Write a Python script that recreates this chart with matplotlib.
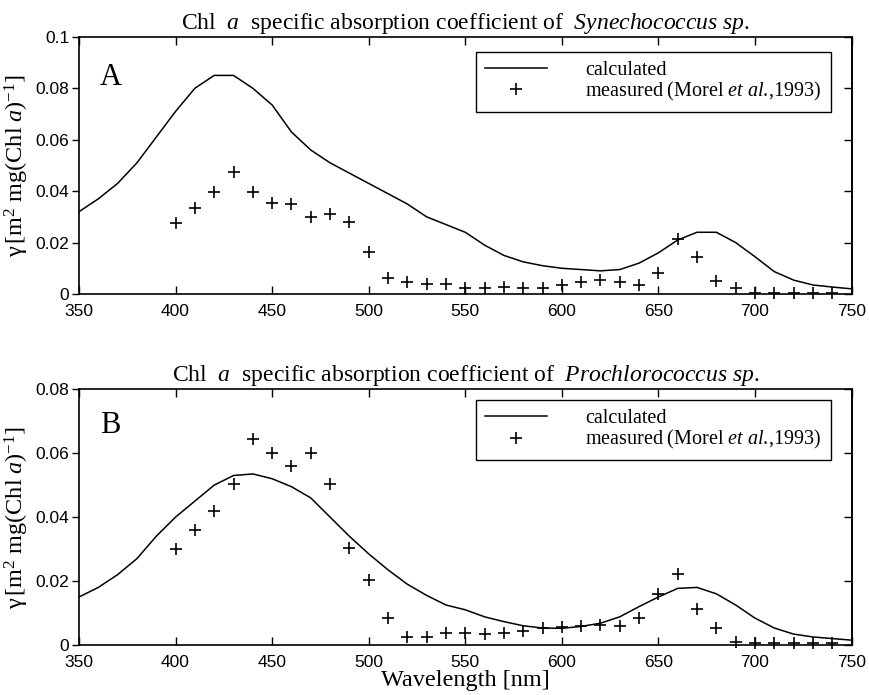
import matplotlib
matplotlib.use("Agg")
import matplotlib.pyplot as plt
from matplotlib.ticker import FuncFormatter, MultipleLocator

plt.rcParams['mathtext.fontset'] = 'custom'
plt.rcParams['mathtext.rm'] = 'Liberation Serif'
plt.rcParams['mathtext.it'] = 'Liberation Serif:italic'
plt.rcParams['mathtext.bf'] = 'Liberation Serif:bold'

# ---------------- data ----------------
wl_calc = list(range(350, 751, 10))
calc_syn = [0.032, 0.037, 0.043, 0.051, 0.061, 0.071, 0.080, 0.085, 0.085, 0.080,
            0.0735, 0.063, 0.056, 0.051, 0.047, 0.043, 0.039, 0.035, 0.030, 0.027,
            0.024, 0.019, 0.015, 0.0125, 0.011, 0.010, 0.0095, 0.009, 0.0095, 0.012,
            0.016, 0.021, 0.024, 0.024, 0.020, 0.0145, 0.0087, 0.0054, 0.0035, 0.0027,
            0.002]
calc_pro = [0.015, 0.018, 0.022, 0.027, 0.034, 0.040, 0.045, 0.050, 0.053, 0.0535,
            0.052, 0.0495, 0.046, 0.040, 0.034, 0.0285, 0.0235, 0.019, 0.0155, 0.0125,
            0.011, 0.0088, 0.0073, 0.006, 0.0053, 0.0052, 0.0058, 0.0068, 0.0088, 0.012,
            0.015, 0.0177, 0.018, 0.016, 0.0125, 0.0084, 0.0053, 0.0034, 0.0025, 0.002,
            0.0015]

wl_meas = list(range(400, 741, 10))
meas_syn = [0.0277, 0.0336, 0.0397, 0.0476, 0.0397, 0.0355, 0.0349, 0.0301, 0.031, 0.0281,
            0.0165, 0.0064, 0.0047, 0.0038, 0.0037, 0.0022, 0.0022, 0.0028, 0.0022, 0.0022,
            0.0035, 0.0048, 0.0054, 0.0048, 0.0035, 0.0080, 0.0213, 0.0143, 0.0052, 0.0022,
            0.0005, 0.0003, 0.0003, 0.0003, 0.0003]
meas_pro = [0.030, 0.0361, 0.042, 0.0503, 0.0643, 0.0601, 0.056, 0.0601, 0.0503, 0.0304,
            0.0203, 0.0085, 0.0026, 0.0026, 0.0038, 0.0037, 0.0035, 0.0038, 0.0045, 0.0052,
            0.0055, 0.006, 0.0062, 0.006, 0.0085, 0.016, 0.0221, 0.0111, 0.0054, 0.0008,
            0.0005, 0.0005, 0.0005, 0.0005, 0.0005]

xticks = [350, 400, 450, 500, 550, 600, 650, 700, 750]
titles = [r"Chl  $a$  specific absorption coefficient of  $\mathit{Synechococcus\ sp.}$",
          r"Chl  $a$  specific absorption coefficient of  $\mathit{Prochlorococcus\ sp.}$"]
panel_letters = ["A", "B"]
ymax = [0.1, 0.08]
legend_labels = ["calculated",
                 r"$\mathrm{measured\ (Morel\ }\mathit{et\ al.}\!\mathrm{{,}1993)}$"]
ylabel = r"$\mathrm{γ}\,[\mathrm{m}^2\ \mathrm{mg(Chl}\ a)^{-1}]$"

# ---------------- figure ----------------
fig = plt.figure(figsize=(8.69, 6.95), dpi=100)
rects = [[0.0909, 0.577, 0.889, 0.370], [0.0909, 0.072, 0.889, 0.368]]
letter_y = [0.813, 0.828]
legend_top = [0.942, 0.957]

serif = 'Liberation Serif'
sans = 'Liberation Sans'

fmt = FuncFormatter(lambda v, p: "0" if abs(v) < 1e-12 else ("%g" % round(v, 4)))

for i in range(2):
    ax = fig.add_axes(rects[i])
    calc = [calc_syn, calc_pro][i]
    meas = [meas_syn, meas_pro][i]
    ax.plot(wl_calc, calc, color='black', lw=1.1, label=legend_labels[0])
    ax.plot(wl_meas, meas, linestyle='none', marker='+', markersize=9,
            markeredgewidth=1.2, color='black', label=legend_labels[1], clip_on=False)
    ax.set_xlim(350, 750)
    ax.set_ylim(0, ymax[i])
    ax.set_xticks(xticks)
    ax.yaxis.set_major_locator(MultipleLocator(0.02))
    ax.yaxis.set_major_formatter(fmt)
    for s in ax.spines.values():
        s.set_linewidth(1.2)
    ax.tick_params(axis='x', direction='in', top=True, length=6, width=1,
                   labelsize=12.5, pad=7)
    ax.tick_params(axis='y', direction='out', left=True, right=False, length=5,
                   width=1, labelsize=12.5, pad=2)
    for lab in ax.get_xticklabels() + ax.get_yticklabels():
        lab.set_fontfamily(sans)
    sec = ax.secondary_yaxis('right')
    sec.yaxis.set_major_locator(MultipleLocator(0.02))
    sec.tick_params(direction='in', length=6, width=1, labelright=False)
    sec.spines['right'].set_linewidth(1.2)

    ax.set_title(titles[i], fontfamily=serif, fontsize=17, pad=6)
    ax.set_ylabel(ylabel, fontfamily=serif, fontsize=17.5, labelpad=3)
    ax.text(0.027, letter_y[i], panel_letters[i], transform=ax.transAxes,
            fontfamily=serif, fontsize=22)
    leg = ax.legend(loc='upper right', bbox_to_anchor=(0.973, legend_top[i]),
                    prop={'family': serif, 'size': 14.5}, frameon=True,
                    fancybox=False, edgecolor='black', framealpha=1,
                    handlelength=3.1, labelspacing=0.0, borderpad=0.45,
                    handletextpad=1.9, borderaxespad=0)
    leg.get_frame().set_linewidth(1.0)

    if i == 1:
        ax.set_xlabel("Wavelength [nm]", fontfamily=serif, fontsize=17.5, labelpad=0)

fig.savefig("out.png", dpi=100)
